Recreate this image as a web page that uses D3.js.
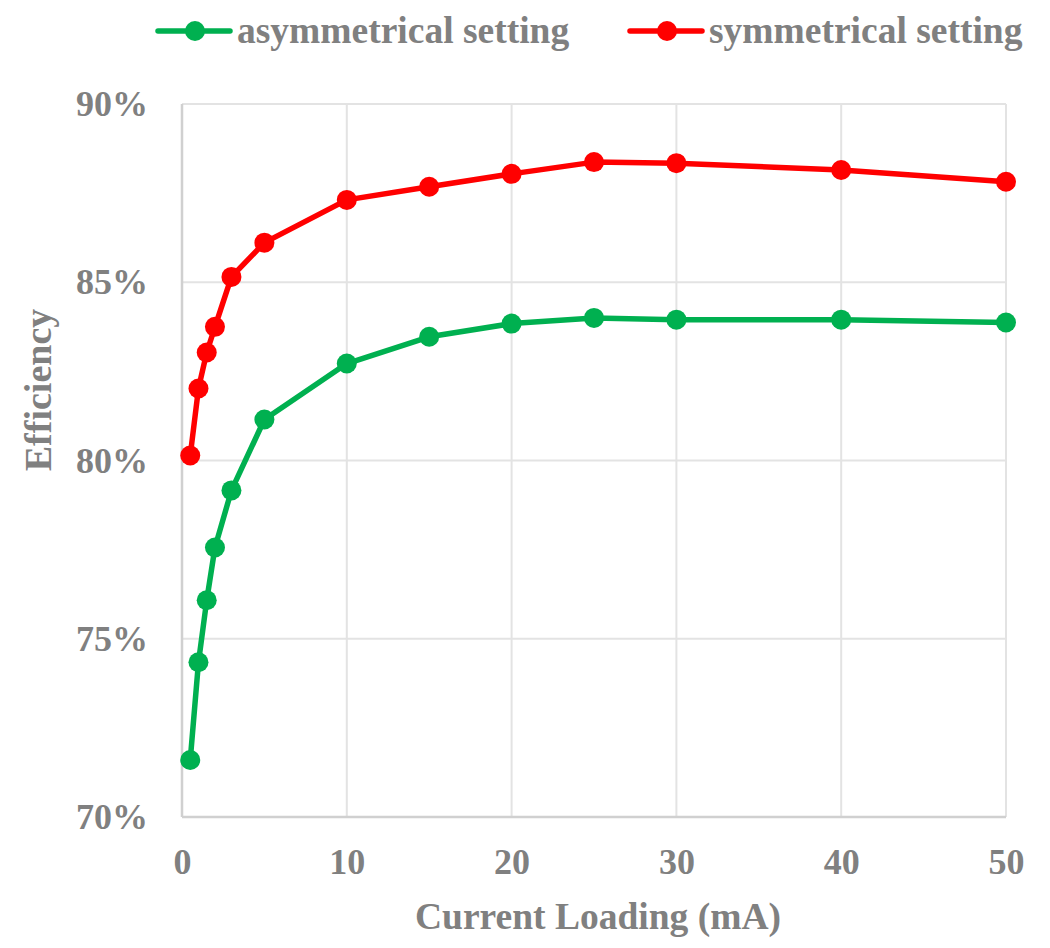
<!DOCTYPE html>
<html>
<head>
<meta charset="utf-8">
<script src="https://cdn.jsdelivr.net/npm/d3@7"></script>
<style>
  body { margin: 0; background: #fff; }
  text { font-family: "Liberation Serif", "Times New Roman", serif; font-weight: bold; fill: #808080; }
</style>
</head>
<body>
<script>
(function (d3) {
    'use strict';

    // data
    var currents = [0.5, 1, 1.5, 2, 3, 5, 10, 15, 20, 25, 30, 40, 50];
    var asymmetrical = [71.6, 74.34, 76.08, 77.56, 79.16, 81.15, 82.72, 83.47, 83.84, 84.0, 83.95, 83.95, 83.87];
    var symmetrical = [80.14, 82.02, 83.03, 83.75, 85.15, 86.11, 87.31, 87.68, 88.04, 88.37, 88.34, 88.15, 87.82];
    var seriesNames = ['asymmetrical setting', 'symmetrical setting'];
    var seriesColors = ['#00b050', '#ff0000'];
    var xTicks = [0, 10, 20, 30, 40, 50];
    var yTicks = [70, 75, 80, 85, 90];

    var width = 1050, height = 948;
    var margin = { top: 104, right: 44, bottom: 131, left: 182 };
    var innerWidth = width - margin.left - margin.right;
    var innerHeight = height - margin.top - margin.bottom;

    var svg = d3.select('body').append('svg')
        .attr('width', width)
        .attr('height', height);

    var xScale = d3.scaleLinear().domain([0, 50]).range([0, innerWidth]);
    var yScale = d3.scaleLinear().domain([70, 90]).range([innerHeight, 0]);

    var g = svg.append('g')
        .attr('transform', 'translate(' + margin.left + ',' + margin.top + ')');

    // gridlines
    g.append('g').selectAll('line.h').data(yTicks).enter().append('line')
        .attr('x1', 0).attr('x2', innerWidth)
        .attr('y1', function (d) { return yScale(d); })
        .attr('y2', function (d) { return yScale(d); })
        .attr('stroke', '#e3e3e3').attr('stroke-width', 2);
    g.append('g').selectAll('line.v').data(xTicks).enter().append('line')
        .attr('y1', 0).attr('y2', innerHeight)
        .attr('x1', function (d) { return xScale(d); })
        .attr('x2', function (d) { return xScale(d); })
        .attr('stroke', '#e3e3e3').attr('stroke-width', 2);

    // axis lines
    g.append('line').attr('x1', 0).attr('x2', 0).attr('y1', 0).attr('y2', innerHeight)
        .attr('stroke', '#d0d0d0').attr('stroke-width', 2.5);
    g.append('line').attr('x1', 0).attr('x2', innerWidth).attr('y1', innerHeight).attr('y2', innerHeight)
        .attr('stroke', '#d0d0d0').attr('stroke-width', 2.5);

    // axes (labels only)
    var xAxis = g.append('g')
        .attr('transform', 'translate(0,' + innerHeight + ')')
        .call(d3.axisBottom(xScale).tickValues(xTicks).tickSize(0).tickPadding(31));
    var yAxis = g.append('g')
        .call(d3.axisLeft(yScale).tickValues(yTicks).tickSize(0).tickPadding(34)
            .tickFormat(function (d) { return d + '%'; }));
    [xAxis, yAxis].forEach(function (a) {
        a.select('.domain').remove();
        a.selectAll('text')
            .style('font-family', '"Liberation Serif", serif')
            .style('font-weight', 'bold')
            .style('font-size', '36px')
            .attr('fill', '#808080');
    });

    // axis titles
    svg.append('text')
        .attr('x', margin.left + innerWidth / 2 + 4)
        .attr('y', 929)
        .attr('text-anchor', 'middle')
        .style('font-size', '37.5px')
        .text('Current Loading (mA)');
    svg.append('text')
        .attr('transform', 'translate(51,390) rotate(-90)')
        .attr('text-anchor', 'middle')
        .style('font-size', '38px')
        .text('Efficiency');

    // series
    var series = [asymmetrical, symmetrical];
    var line = d3.line()
        .x(function (d, i) { return xScale(currents[i]); })
        .y(function (d) { return yScale(d); });

    series.forEach(function (vals, k) {
        g.append('path')
            .datum(vals)
            .attr('d', line)
            .attr('fill', 'none')
            .attr('stroke', seriesColors[k])
            .attr('stroke-width', 5.5)
            .attr('stroke-linejoin', 'round');
        g.selectAll('circle.s' + k).data(vals).enter().append('circle')
            .attr('cx', function (d, i) { return xScale(currents[i]); })
            .attr('cy', function (d) { return yScale(d); })
            .attr('r', 10)
            .attr('fill', seriesColors[k]);
    });

    // legend
    var legendX = [158, 630];
    seriesNames.forEach(function (name, k) {
        var lg = svg.append('g').attr('transform', 'translate(' + legendX[k] + ',31)');
        lg.append('line').attr('x1', 0).attr('x2', 72).attr('y1', 0).attr('y2', 0)
            .attr('stroke', seriesColors[k]).attr('stroke-width', 5.5).attr('stroke-linecap', 'round');
        lg.append('circle').attr('cx', 37).attr('cy', 0).attr('r', 10).attr('fill', seriesColors[k]);
        lg.append('text').attr('x', 79).attr('y', 12)
            .style('font-size', '37.5px')
            .text(name);
    });

})(d3);
</script>
</body>
</html>
